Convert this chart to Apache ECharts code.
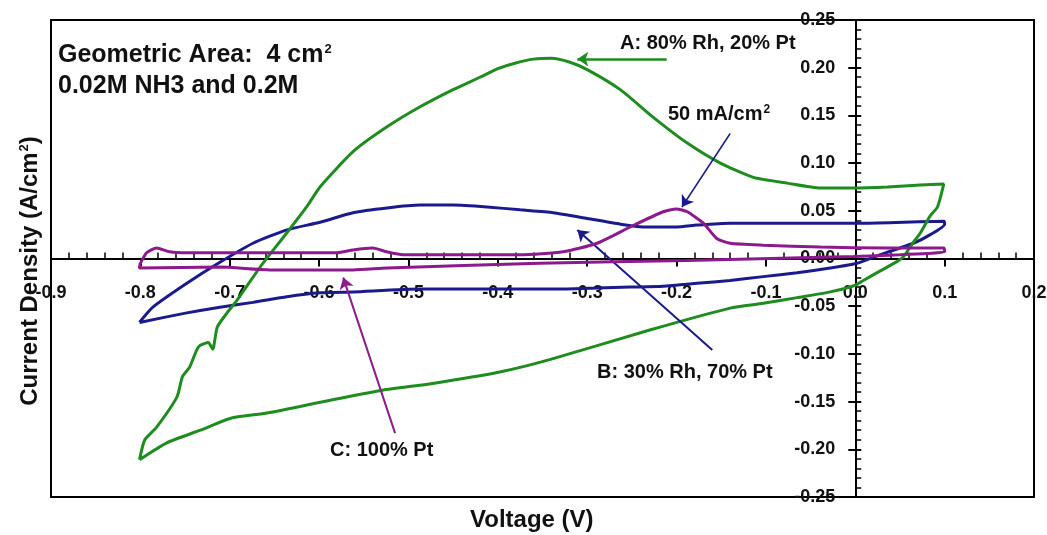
<!DOCTYPE html>
<html>
<head>
<meta charset="utf-8">
<script src="https://cdn.jsdelivr.net/npm/echarts@6/dist/echarts.min.js"></script>
<style>html,body{margin:0;padding:0;background:#fff}#c{width:1047px;height:535px}</style>
</head>
<body>
<div id="c"></div>
<script>
// Voltage range and current-density range
const xRange = [-0.9, 0.2];
const yRange = [-0.25, 0.25];

// A: 80% Rh, 20% Pt  [V, A/cm2]
const curveA = [
[-0.801,-0.211],[-0.795,-0.190],[-0.782,-0.177],[-0.759,-0.145],[-0.753,-0.124],[-0.745,-0.114],[-0.737,-0.096],[-0.733,-0.091],[-0.724,-0.088],[-0.719,-0.095],[-0.714,-0.072],[-0.703,-0.057],[-0.692,-0.044],[-0.666,-0.009],[-0.636,0.027],[-0.614,0.054],[-0.599,0.075],[-0.562,0.112],[-0.524,0.138],[-0.487,0.159],[-0.450,0.177],[-0.420,0.190],[-0.400,0.199],[-0.380,0.205],[-0.360,0.209],[-0.340,0.210],[-0.320,0.206],[-0.300,0.198],[-0.263,0.177],[-0.226,0.148],[-0.188,0.121],[-0.151,0.100],[-0.114,0.085],[-0.076,0.079],[-0.039,0.074],[-0.002,0.074],[0.036,0.075],[0.073,0.077],[0.099,0.078],
[0.092,0.054],[0.084,0.045],[0.073,0.027],[0.065,0.017],[0.054,0.002],[0.047,-0.003],[0.028,-0.013],[0.009,-0.023],[0.0,-0.028],[-0.028,-0.035],[-0.065,-0.041],[-0.103,-0.047],[-0.140,-0.052],[-0.230,-0.075],[-0.342,-0.106],[-0.398,-0.119],[-0.473,-0.131],[-0.529,-0.138],[-0.585,-0.148],[-0.658,-0.162],[-0.697,-0.167],[-0.733,-0.180],[-0.770,-0.193],[-0.801,-0.211]
];

// B: 30% Rh, 70% Pt
const curveB = [
[-0.801,-0.067],[-0.786,-0.051],[-0.748,-0.026],[-0.711,-0.004],[-0.674,0.016],[-0.636,0.030],[-0.599,0.038],[-0.562,0.048],[-0.524,0.053],[-0.487,0.056],[-0.450,0.056],[-0.412,0.054],[-0.375,0.051],[-0.338,0.048],[-0.300,0.042],[-0.263,0.036],[-0.233,0.033],[-0.200,0.033],[-0.177,0.035],[-0.140,0.037],[-0.065,0.037],[0.009,0.037],[0.099,0.039],[0.100,0.036],
[0.084,0.025],[0.065,0.016],[0.028,0.004],[0.002,-0.005],[-0.028,-0.010],[-0.065,-0.015],[-0.103,-0.019],[-0.140,-0.023],[-0.177,-0.026],[-0.215,-0.029],[-0.252,-0.030],[-0.289,-0.031],[-0.327,-0.032],[-0.412,-0.032],[-0.487,-0.032],[-0.562,-0.035],[-0.599,-0.036],[-0.636,-0.040],[-0.674,-0.046],[-0.711,-0.051],[-0.748,-0.057],[-0.801,-0.067]
];

// C: 100% Pt
const curveC = [
[-0.801,-0.007],[-0.793,0.006],[-0.782,0.011],[-0.767,0.007],[-0.748,0.006],[-0.650,0.006],[-0.580,0.006],[-0.562,0.009],[-0.540,0.011],[-0.524,0.007],[-0.506,0.004],[-0.412,0.004],[-0.375,0.004],[-0.327,0.007],[-0.289,0.016],[-0.252,0.033],[-0.215,0.049],[-0.200,0.052],[-0.188,0.049],[-0.170,0.037],[-0.155,0.021],[-0.140,0.016],[-0.103,0.014],[-0.039,0.012],[0.036,0.011],[0.099,0.011],[0.100,0.007],[0.050,0.004],[-0.002,0.002],[-0.188,-0.002],[-0.353,-0.005],[-0.524,-0.010],[-0.562,-0.012],[-0.655,-0.012],[-0.711,-0.009],[-0.801,-0.010],[-0.801,-0.007]
];

// annotation arrows [from, to] in data coords
const arrowA = [[-0.211, 0.209], [-0.311, 0.209]];
const arrow50 = [[-0.140, 0.131], [-0.194, 0.054]];
const arrowB = [[-0.160, -0.096], [-0.311, 0.030]];
const arrowC = [[-0.515, -0.183], [-0.573, -0.020]];

const GREEN = '#1e8c1e', BLUE = '#1a1a8c', PURPLE = '#8c1a8c';
const FONT = '"Liberation Sans", Arial, sans-serif';

const W = 1047, H = 535;
const G = {left: 51, right: 13, top: 20, bottom: 38};
const gw = W - G.left - G.right, gh = H - G.top - G.bottom;
// axes cross at the origin: shift the axes in from the grid edges to the zero lines
const xOff = -(gh - gh * (yRange[1]) / (yRange[1] - yRange[0]));
const yOff = -gw * (0 - xRange[0]) / (xRange[1] - xRange[0]);

const chart = echarts.init(document.getElementById('c'), null, {renderer: 'canvas'});

function arrow(pts, color, w) {
  return {
    silent: true, animation: false,
    symbol: ['none', 'arrow'], symbolSize: 11,
    label: {show: false},
    lineStyle: {color: color, width: w, type: 'solid'},
    data: [[{coord: pts[0]}, {coord: pts[1]}]]
  };
}

const baseX = {type: 'value', min: xRange[0], max: xRange[1], interval: 0.1, splitLine: {show: false}, position: 'bottom', offset: xOff};
const baseY = {type: 'value', min: yRange[0], max: yRange[1], interval: 0.05, splitLine: {show: false}, position: 'left', offset: yOff};

const option = {
  animation: false,
  backgroundColor: '#fff',
  grid: {left: G.left, right: G.right, top: G.top, bottom: G.bottom, outerBoundsMode: 'none', containLabel: false,
    show: true, borderColor: '#000', borderWidth: 2, backgroundColor: 'transparent'},
  xAxis: [
    Object.assign({}, baseX, {
      axisLine: {show: true, onZero: false, lineStyle: {color: '#000', width: 2}},
      axisTick: {show: true, inside: false, length: 8, lineStyle: {color: '#000', width: 2}},
      minorTick: {show: false},
      axisLabel: {show: true, margin: 26, color: '#111', fontFamily: FONT, fontWeight: 'bold', fontSize: 18,
        showMinLabel: true, showMaxLabel: true,
        formatter: v => (Math.round(v * 10) / 10).toFixed(1)}
    }),
    Object.assign({}, baseX, {
      axisLine: {show: false, onZero: false},
      axisTick: {show: false, inside: true},
      minorTick: {show: true, splitNumber: 5, length: 6, lineStyle: {color: '#000', width: 1.5}},
      axisLabel: {show: false}
    })
  ],
  yAxis: [
    Object.assign({}, baseY, {
      axisLine: {show: true, onZero: false, lineStyle: {color: '#000', width: 2}},
      axisTick: {show: true, inside: false, length: 7, lineStyle: {color: '#000', width: 2}},
      minorTick: {show: false},
      axisLabel: {show: true, margin: 20, color: '#111', fontFamily: FONT, fontWeight: 'bold', fontSize: 18,
        showMinLabel: true, showMaxLabel: true,
        formatter: v => (Math.round(v * 100) / 100).toFixed(2)}
    }),
    Object.assign({}, baseY, {
      axisLine: {show: false, onZero: false},
      axisTick: {show: true, inside: true, length: 6, lineStyle: {color: '#000', width: 2}},
      minorTick: {show: true, splitNumber: 5, length: 6, lineStyle: {color: '#000', width: 1.5}},
      axisLabel: {show: false}
    })
  ],
  series: [
    {type: 'line', name: 'B', data: curveB, xAxisIndex: 0, yAxisIndex: 0, showSymbol: false, smooth: 0.2,
      lineStyle: {color: BLUE, width: 3}, itemStyle: {color: BLUE}, z: 3},
    {type: 'line', name: 'A', data: curveA, xAxisIndex: 0, yAxisIndex: 0, showSymbol: false, smooth: 0.2,
      lineStyle: {color: GREEN, width: 3}, itemStyle: {color: GREEN}, z: 4,
      markLine: arrow(arrowA, GREEN, 2.5)},
    {type: 'line', name: 'C', data: curveC, xAxisIndex: 0, yAxisIndex: 0, showSymbol: false, smooth: 0.2,
      lineStyle: {color: PURPLE, width: 3}, itemStyle: {color: PURPLE}, z: 5,
      markLine: arrow(arrowC, PURPLE, 2)},
    {type: 'line', name: 'arrow50', data: [], xAxisIndex: 0, yAxisIndex: 0, showSymbol: false,
      markLine: arrow(arrow50, BLUE, 1.5)},
    {type: 'line', name: 'arrowB', data: [], xAxisIndex: 0, yAxisIndex: 0, showSymbol: false,
      markLine: arrow(arrowB, BLUE, 2)}
  ],
  graphic: [
    {type: 'text', left: 58, top: 43, z: 10, style: {text: 'Geometric Area:  4 cm{sup|2}', fill: '#111', font: 'bold 25px ' + FONT,
      rich: {sup: {fontSize: 13, fontWeight: 'bold', fontFamily: FONT, fill: '#111', verticalAlign: 'top', padding: [0, 0, 10, 1]}}}},
    {type: 'text', left: 58, top: 74, z: 10, style: {text: '0.02M NH3 and 0.2M', fill: '#111', font: 'bold 25px ' + FONT}},
    {type: 'text', left: 620, top: 33, z: 10, style: {text: 'A: 80% Rh, 20% Pt', fill: '#111', font: 'bold 20px ' + FONT}},
    {type: 'text', left: 668, top: 104, z: 10, style: {text: '50 mA/cm{sup|2}', fill: '#111', font: 'bold 20px ' + FONT,
      rich: {sup: {fontSize: 12, fontWeight: 'bold', fontFamily: FONT, fill: '#111', verticalAlign: 'top', padding: [0, 0, 8, 1]}}}},
    {type: 'text', left: 597, top: 362, z: 10, style: {text: 'B: 30% Rh, 70% Pt', fill: '#111', font: 'bold 20px ' + FONT}},
    {type: 'text', left: 330, top: 440, z: 10, style: {text: 'C: 100% Pt', fill: '#111', font: 'bold 20px ' + FONT}},
    {type: 'text', left: 470, top: 508, z: 10, style: {text: 'Voltage (V)', fill: '#111', font: 'bold 24px ' + FONT}},
    {type: 'text', x: 30, y: 271, rotation: Math.PI / 2, z: 10,
      style: {text: 'Current Density (A/cm{sup|2})', fill: '#111', font: 'bold 24px ' + FONT, align: 'center', verticalAlign: 'middle',
        rich: {sup: {fontSize: 13, fontWeight: 'bold', fontFamily: FONT, fill: '#111', verticalAlign: 'top', padding: [0, 0, 10, 1]}}}}
  ]
};
chart.setOption(option);
</script>
</body>
</html>
